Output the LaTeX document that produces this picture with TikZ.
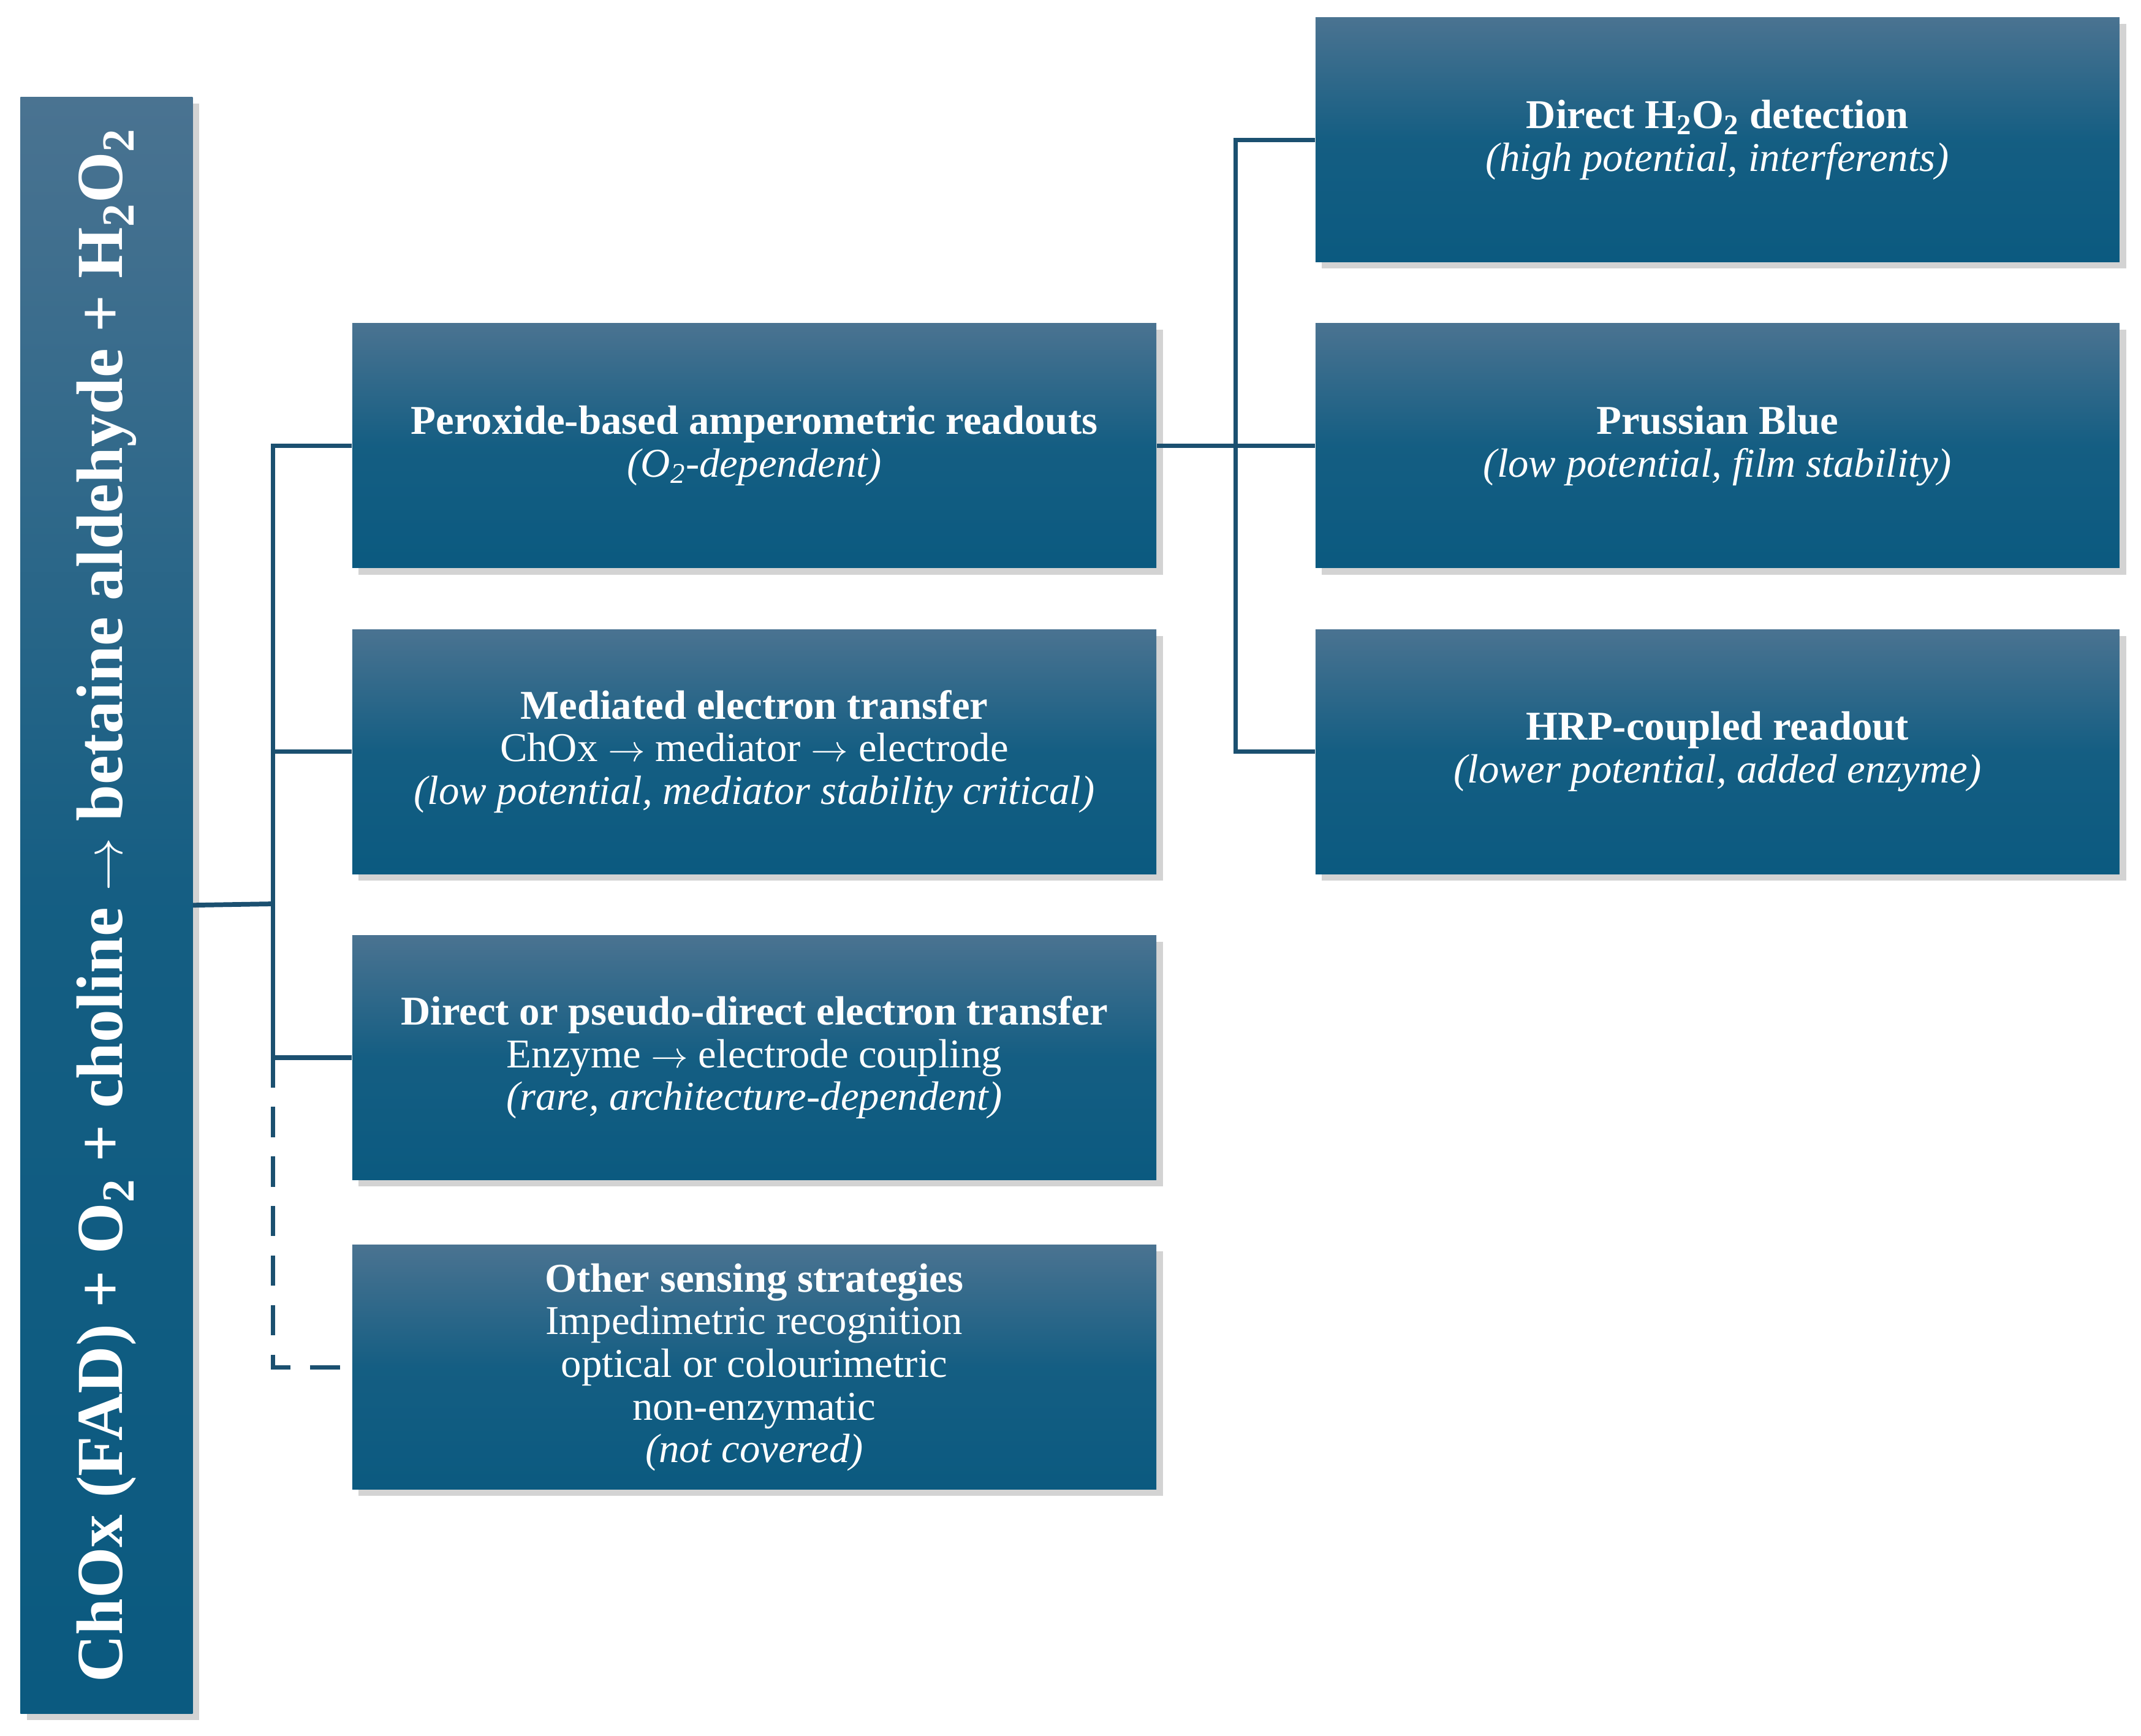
\documentclass[tikz,border=0pt]{standalone}
\usepackage{fontspec}
\setmainfont{Liberation Serif}
\usetikzlibrary{shadows}
\definecolor{topc}{HTML}{4A7391}
\definecolor{botc}{HTML}{0B5A80}
\definecolor{linec}{HTML}{1B5070}
\begin{document}
\begin{tikzpicture}[x=0.02228cm,y=-0.02228cm,
 box/.style={draw=none,top color=topc,bottom color=botc,middle color=botc!85!topc,text=white,align=center,
   minimum width=13.12cm,minimum height=3.99cm,inner sep=2pt,
   drop shadow={shadow xshift=3pt,shadow yshift=-3pt,opacity=0.35},
   font=\fontsize{19}{19.8}\selectfont},
 conn/.style={draw=linec,line width=2.2pt}]
\useasboundingbox (0,0) rectangle (1568.2,1271.5);
\node[box,minimum width=26.38cm,minimum height=2.81cm,rotate=90,font=\fontsize{30.5}{36}\selectfont\bfseries] (root) at (78,663)
 {ChOx (FAD) + O\textsubscript{2} + choline $\rightarrow$ betaine aldehyde + H\textsubscript{2}O\textsubscript{2}};
\node[box] (per) at (552.5,326.5) {\textbf{Peroxide-based amperometric readouts}\\\textit{(O\textsubscript{2}-dependent)}};
\node[box] (med) at (552.5,550.5) {\textbf{Mediated electron transfer}\\ChOx $\rightarrow$ mediator $\rightarrow$ electrode\\\textit{(low potential, mediator stability critical)}};
\node[box] (dir) at (552.5,774.5) {\textbf{Direct or pseudo-direct electron transfer}\\Enzyme $\rightarrow$ electrode coupling\\\textit{(rare, architecture-dependent)}};
\node[box] (oth) at (552.5,1001.5) {\textbf{Other sensing strategies}\\Impedimetric recognition\\optical or colourimetric\\non-enzymatic\\\textit{(not covered)}};
\node[box] (h2o2) at (1258,102.5) {\textbf{Direct H\textsubscript{2}O\textsubscript{2} detection}\\\textit{(high potential, interferents)}};
\node[box] (pb) at (1258,326.5) {\textbf{Prussian Blue}\\\textit{(low potential, film stability)}};
\node[box] (hrp) at (1258,550.5) {\textbf{HRP-coupled readout}\\\textit{(lower potential, added enzyme)}};
\coordinate (j1) at (200,662);
\coordinate (j2) at (905,326.5);
\draw[conn] (root.south) -- (j1);
\draw[conn] (per.west) -| (j1);
\draw[conn] (med.west) -- (med.west -| j1);
\draw[conn] (dir.west) -| (j1);
\draw[conn,dashed,dash pattern=on 14pt off 9pt] (dir.west -| j1) |- (oth.west);
\draw[conn] (per.east) -- (pb.west);
\draw[conn] (h2o2.west) -| (j2) |- (hrp.west);
\end{tikzpicture}
\end{document}
